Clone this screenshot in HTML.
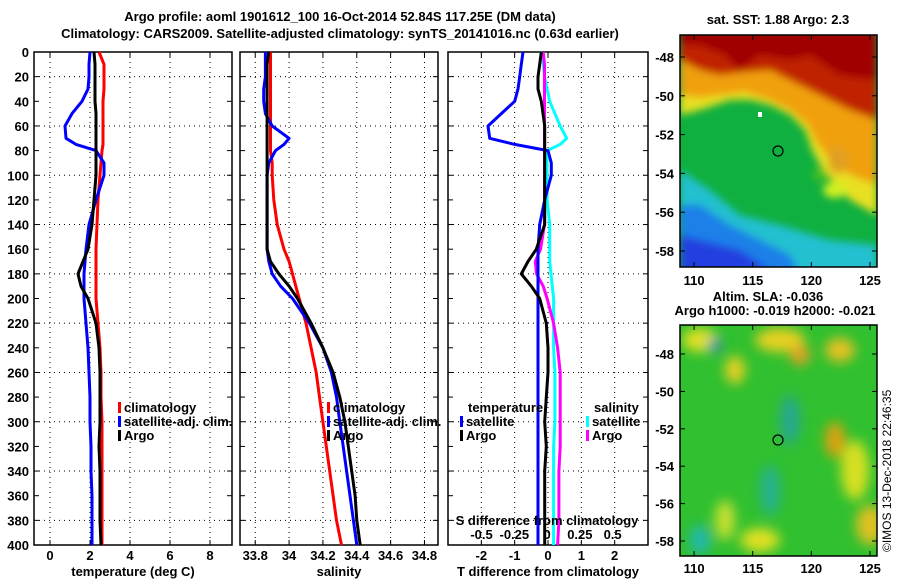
<!DOCTYPE html>
<html><head><meta charset="utf-8"><style>
body{margin:0;background:#fff;width:900px;height:580px;overflow:hidden}
svg text{font-family:"Liberation Sans",sans-serif;font-weight:bold;font-size:13px;fill:#000}
</style></head><body>
<svg id="c" width="900" height="580" viewBox="0 0 900 580">
<defs>
<filter id="bl"><feGaussianBlur stdDeviation="4"/></filter>
<filter id="bl2"><feGaussianBlur stdDeviation="6"/></filter>
<clipPath id="cm1"><rect x="680" y="35" width="197" height="232"/></clipPath>
<clipPath id="cm2"><rect x="680" y="325" width="197" height="231"/></clipPath>
</defs>
<text x="340" y="21" text-anchor="middle">Argo profile: aoml 1901612_100 16-Oct-2014 52.84S 117.25E (DM data)</text>
<text x="340" y="38" text-anchor="middle">Climatology: CARS2009. Satellite-adjusted climatology: synTS_20141016.nc (0.63d earlier)</text>
<g id="plots"></g>
<!-- top map -->
<g clip-path="url(#cm1)">
<rect x="680" y="35" width="197" height="232" fill="#10b040"/>
<g filter="url(#bl)">
<path d="M680,170 L710,190 L740,215 L780,225 L830,240 L877,245 L877,300 L680,300Z" fill="#20c0d0"/>
<path d="M680,205 L700,205 L730,225 L760,240 L790,255 L800,275 L680,275Z" fill="#1a80e8"/>
<path d="M680,235 L740,250 L770,270 L680,280Z" fill="#2040e0"/>
<path d="M680,30 L877,30 L877,215 L850,200 L835,185 L820,165 L812,150 L805,130 L790,115 L770,105 L750,100 L730,100 L700,110 L680,115Z" fill="#e8e020"/>
<path d="M680,30 L877,30 L877,185 L850,175 L830,160 L815,140 L808,125 L790,110 L770,100 L745,92 L720,95 L700,98 L680,95Z" fill="#f0a010"/>
<path d="M680,30 L877,30 L877,120 L850,110 L830,100 L810,90 L790,80 L770,70 L745,72 L720,75 L700,70 L680,60Z" fill="#c02000"/>
<path d="M680,30 L877,30 L877,80 L840,75 L810,55 L790,60 L760,55 L740,70 L725,55 L700,45 L680,45Z" fill="#a00000"/>
<ellipse cx="835" cy="190" rx="12" ry="8" fill="#d0f020"/>
<ellipse cx="838" cy="160" rx="10" ry="14" fill="#e0a020"/>
<ellipse cx="820" cy="175" rx="8" ry="6" fill="#40c020"/>
</g>
<rect x="758" y="112" width="4" height="5" fill="#fff"/>
<circle cx="778" cy="151" r="5" fill="none" stroke="#000" stroke-width="1.2"/>
</g>
<rect x="680" y="35" width="197" height="232" fill="none" stroke="#000" stroke-width="1.5"/>
<!-- bottom map -->
<g clip-path="url(#cm2)">
<rect x="680" y="325" width="197" height="231" fill="#30c030"/>
<g filter="url(#bl2)">
<ellipse cx="700" cy="340" rx="18" ry="12" fill="#e0e020"/>
<ellipse cx="780" cy="340" rx="25" ry="12" fill="#e8d020"/>
<ellipse cx="800" cy="355" rx="10" ry="10" fill="#e8a020"/>
<ellipse cx="840" cy="350" rx="15" ry="12" fill="#e8c020"/>
<ellipse cx="735" cy="370" rx="10" ry="14" fill="#e8d020"/>
<ellipse cx="835" cy="440" rx="10" ry="18" fill="#e0a010"/>
<ellipse cx="855" cy="470" rx="14" ry="30" fill="#d8e020"/>
<ellipse cx="870" cy="525" rx="14" ry="20" fill="#e0c020"/>
<ellipse cx="760" cy="540" rx="20" ry="12" fill="#e0e020"/>
<ellipse cx="725" cy="520" rx="10" ry="20" fill="#c8e030"/>
<ellipse cx="700" cy="540" rx="10" ry="15" fill="#20b8b0"/>
<ellipse cx="770" cy="490" rx="10" ry="25" fill="#28b090"/>
<ellipse cx="790" cy="420" rx="10" ry="25" fill="#28a890"/>
<ellipse cx="715" cy="345" rx="6" ry="6" fill="#2070d0"/>
</g>
<circle cx="778" cy="440" r="5" fill="none" stroke="#000" stroke-width="1.2"/>
</g>
<rect x="680" y="325" width="197" height="231" fill="none" stroke="#000" stroke-width="1.5"/>
<text x="778" y="24" text-anchor="middle">sat. SST: 1.88 Argo: 2.3</text>
<text x="768" y="301" text-anchor="middle">Altim. SLA: -0.036</text>
<text x="775" y="315" text-anchor="middle">Argo h1000: -0.019 h2000: -0.021</text>
<text transform="translate(891,552) rotate(-90)" style="font-weight:normal;font-size:12px">©IMOS 13-Dec-2018 22:46:35</text>
<g id="maps"></g>
</svg>
<script>
const depthTicks=[0,20,40,60,80,100,120,140,160,180,200,220,240,260,280,300,320,340,360,380,400];
const tTicks=[0,2,4,6,8];
const sTicks=[33.8,34,34.2,34.4,34.6,34.8];
const dTicks=[-2,-1,0,1,2];
const sdTickVals=[-0.5,-0.25,0,0.25,0.5];
const sdTickLabels=["-0.5","-0.25","0","0.25","0.5"];
const depths=[0,10,20,30,40,50,60,70,75,80,90,100,120,140,160,170,180,190,200,220,240,260,280,300,320,340,360,380,400];
const tClim=[2.45,2.7,2.7,2.7,2.65,2.65,2.65,2.65,2.65,2.6,2.55,2.5,2.4,2.35,2.3,2.3,2.3,2.3,2.3,2.4,2.5,2.55,2.55,2.6,2.6,2.6,2.6,2.6,2.6];
const tSat=[2.0,1.95,1.95,1.9,1.6,1.1,0.75,0.8,1.3,2.3,2.7,2.7,2.3,1.95,1.8,1.75,1.7,1.7,1.7,1.8,1.9,1.95,2.0,2.0,2.05,2.05,2.1,2.1,2.1];
const tArgo=[2.2,2.25,2.25,2.25,2.25,2.3,2.3,2.3,2.3,2.3,2.3,2.3,2.2,2.1,1.9,1.65,1.4,1.55,1.9,2.3,2.45,2.5,2.5,2.5,2.45,2.5,2.5,2.5,2.55];
const sClim=[33.89,33.89,33.89,33.89,33.89,33.89,33.89,33.89,33.89,33.89,33.9,33.9,33.91,33.93,33.97,34.0,34.02,34.04,34.06,34.1,34.13,34.16,34.18,34.2,34.22,34.24,34.26,34.28,34.31];
const sSat=[33.86,33.86,33.86,33.85,33.85,33.86,33.9,34.0,33.97,33.92,33.88,33.87,33.87,33.87,33.87,33.88,33.9,33.95,34.02,34.12,34.2,34.25,34.28,34.3,34.32,34.34,34.36,34.38,34.4];
const sArgo=[33.88,33.87,33.87,33.87,33.87,33.87,33.87,33.87,33.87,33.87,33.87,33.87,33.87,33.87,33.87,33.89,33.94,34.0,34.05,34.13,34.2,34.26,34.3,34.33,34.35,34.37,34.39,34.4,34.42];
const tdSat=[-0.75,-0.8,-0.85,-0.9,-1.0,-1.4,-1.8,-1.75,-1.0,0.0,0.1,0.1,-0.1,-0.25,-0.3,-0.3,-0.3,-0.3,-0.3,-0.3,-0.3,-0.3,-0.3,-0.3,-0.3,-0.3,-0.3,-0.3,-0.3];
const tdArgo=[-0.2,-0.25,-0.3,-0.3,-0.2,-0.15,-0.1,-0.1,-0.1,-0.1,-0.1,-0.1,-0.1,-0.1,-0.35,-0.6,-0.8,-0.5,-0.25,-0.05,0.0,0.0,-0.05,-0.1,-0.05,-0.1,-0.1,-0.1,-0.1];
const sdSat=[-0.05,-0.03,-0.02,0.0,0.02,0.06,0.1,0.15,0.1,0.0,0.0,0.0,0.0,0.02,0.02,0.02,0.03,0.04,0.05,0.05,0.05,0.06,0.06,0.06,0.05,0.05,0.05,0.05,0.05];
const sdArgo=[-0.03,-0.02,-0.02,-0.02,-0.02,-0.02,-0.02,-0.02,-0.02,-0.02,-0.02,-0.02,-0.02,-0.02,-0.05,-0.09,-0.08,-0.03,0.0,0.05,0.08,0.1,0.1,0.1,0.1,0.09,0.09,0.09,0.08];
const latTicks=[-48,-50,-52,-54,-56,-58];
const lonTicks=[110,115,120,125];

const NS="http://www.w3.org/2000/svg";
const g=document.getElementById('plots');
function mk(tag,attrs,parent,txt){const e=document.createElementNS(NS,tag);for(const k in attrs)e.setAttribute(k,attrs[k]);if(txt!==undefined)e.textContent=txt;(parent||g).appendChild(e);return e;}
const Y0=52,Y1=545;
const y=d=>Y0+(d/400)*(Y1-Y0);
function lin(d0,d1,p0,p1){return v=>p0+(v-d0)/(d1-d0)*(p1-p0);}
const panels=[
 {x0:34,x1:232,sc:lin(-0.8,9.1,34,232),ticks:tTicks,lab:v=>String(v),title:"temperature (deg C)",name:"temperature-panel"},
 {x0:240,x1:438,sc:lin(33.71,34.88,240,438),ticks:sTicks,lab:v=>String(v),title:"salinity",name:"salinity-panel"},
 {x0:448,x1:648,sc:lin(-3,3,448,648),ticks:dTicks,lab:v=>String(v),title:"T difference from climatology",name:"difference-panel"}
];
panels.forEach((p,i)=>{
 const pg=mk('g',{});
 
 
 depthTicks.forEach(d=>{
  if(d%40===20) {mk('line',{x1:p.x0,x2:p.x1,y1:y(d),y2:y(d),stroke:'#000','stroke-dasharray':'1,4','stroke-width':1},pg);}
  mk('line',{x1:p.x0,x2:p.x0+5,y1:y(d),y2:y(d),stroke:'#000'},pg);
  mk('line',{x1:p.x1-5,x2:p.x1,y1:y(d),y2:y(d),stroke:'#000'},pg);
  if(i===0){const t=mk('text',{x:29,y:y(d)+5,'text-anchor':'end'},pg,String(d));
   }
 });
 p.ticks.forEach(v=>{
  const X=p.sc(v);
  mk('line',{x1:X,x2:X,y1:Y0,y2:Y1,stroke:'#000','stroke-dasharray':'1,4'},pg);
  mk('line',{x1:X,x2:X,y1:Y1-5,y2:Y1,stroke:'#000'},pg);
  mk('line',{x1:X,x2:X,y1:Y0,y2:Y0+5,stroke:'#000'},pg);
  const t=mk('text',{x:X,y:560,'text-anchor':'middle'},pg,p.lab(v));
  
 });
 const tt=mk('text',{x:(p.x0+p.x1)/2,y:576,'text-anchor':'middle'},pg,p.title);
 
 mk('rect',{x:p.x0,y:Y0,width:p.x1-p.x0,height:Y1-Y0,fill:'none',stroke:'#000','stroke-width':1.5},pg);
});
function line(vals,sc,color,name){
 const pts=vals.map((v,k)=>sc(v).toFixed(1)+','+y(depths[k]).toFixed(1)).join(' ');
 const l=mk('polyline',{points:pts,fill:'none',stroke:color,'stroke-width':3,'stroke-linejoin':'round'});
 
 
}
const P=panels;
line(tClim,P[0].sc,'#f00','temp-climatology-line');
line(tSat,P[0].sc,'#00f','temp-satellite-line');
line(tArgo,P[0].sc,'#000','temp-argo-line');
line(sClim,P[1].sc,'#f00','sal-climatology-line');
line(sSat,P[1].sc,'#00f','sal-satellite-line');
line(sArgo,P[1].sc,'#000','sal-argo-line');
const sdSc=lin(-0.756,0.77,448,648);
line(sdSat,sdSc,'#0ff','sdiff-satellite-line');
line(sdArgo,sdSc,'#f0f','sdiff-argo-line');
line(tdSat,P[2].sc,'#00f','tdiff-satellite-line');
line(tdArgo,P[2].sc,'#000','tdiff-argo-line');
sdTickVals.forEach((v,k)=>{const t=mk('text',{x:sdSc(v),y:539,'text-anchor':'middle'},g,sdTickLabels[k]);
 });
const st=mk('text',{x:547,y:525,'text-anchor':'middle'},g,'S difference from climatology');

function leg(x,yy,color,label){
 const e=mk('g',{});
 
 
 mk('rect',{x:x,y:yy-10,width:3,height:11,fill:color},e);
 mk('text',{x:x+6,y:yy},e,label);
}
leg(118,412,'#f00','climatology');leg(118,426,'#00f','satellite-adj. clim.');leg(118,440,'#000','Argo');
leg(327,412,'#f00','climatology');leg(327,426,'#00f','satellite-adj. clim.');leg(327,440,'#000','Argo');
const th=mk('text',{x:468,y:412},g,'temperature');
const sh=mk('text',{x:594,y:412},g,'salinity');
leg(460,426,'#00f','satellite');leg(460,440,'#000','Argo');
leg(586,426,'#0ff','satellite');leg(586,440,'#f0f','Argo');
const mg=document.getElementById('maps');
function mapAxes(top,bot,latY,lonY){
 latTicks.forEach(v=>{
  const Y=latY(v);
  mk('line',{x1:680,x2:685,y1:Y,y2:Y,stroke:'#000'},mg);mk('line',{x1:872,x2:877,y1:Y,y2:Y,stroke:'#000'},mg);
  const t=mk('text',{x:674,y:Y+5,'text-anchor':'end'},mg,String(v));
  
 });
 const lx=lin(108.8,125.6,680,877);
 lonTicks.forEach(v=>{
  const X=lx(v);
  mk('line',{x1:X,x2:X,y1:bot-5,y2:bot,stroke:'#000'},mg);mk('line',{x1:X,x2:X,y1:top,y2:top+5,stroke:'#000'},mg);
  const t=mk('text',{x:X,y:lonY,'text-anchor':'middle'},mg,String(v));
  
 });
}
mapAxes(35,267,lin(-48,-58,57,251),285);
mapAxes(325,556,lin(-48,-58,354,541),573);
</script>
</body></html>
